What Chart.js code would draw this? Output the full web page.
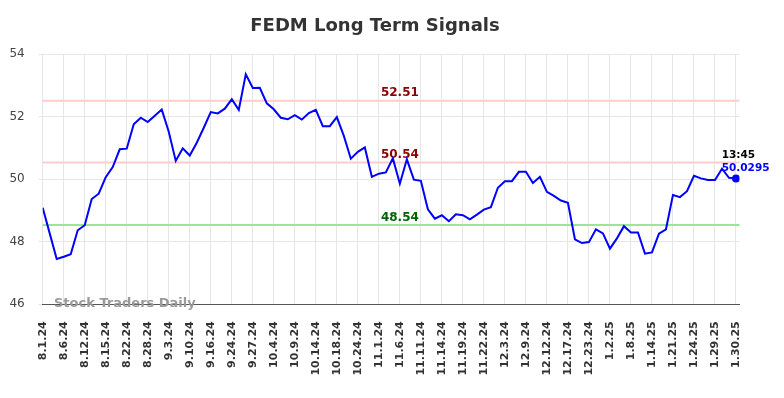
<!DOCTYPE html>
<html><head><meta charset="utf-8">
<script src="https://cdn.jsdelivr.net/npm/chart.js@4"></script>
<style>html,body{margin:0;padding:0;background:#fff}#wrap{width:784px;height:398px}</style>
</head><body><div id="wrap"><canvas id="c" width="784" height="398"></canvas></div>
<script>
const chartTitle = 'FEDM Long Term Signals';
const tickLabels = ['8.1.24','8.6.24','8.12.24','8.15.24','8.22.24','8.28.24','9.3.24','9.10.24','9.16.24','9.24.24','9.27.24','10.4.24','10.9.24','10.14.24','10.18.24','10.24.24','11.1.24','11.6.24','11.11.24','11.14.24','11.19.24','11.22.24','12.3.24','12.9.24','12.12.24','12.17.24','12.23.24','1.2.25','1.8.25','1.14.25','1.21.25','1.24.25','1.29.25','1.30.25'];
const pointsPerTick = 3;
const prices = [49.09,48.27,47.45,47.52,47.60,48.37,48.53,49.37,49.54,50.07,
50.39,50.96,50.98,51.76,51.97,51.83,52.03,52.23,51.52,50.59,
50.99,50.76,51.17,51.65,52.15,52.11,52.26,52.56,52.22,53.36,
52.92,52.93,52.43,52.24,51.97,51.92,52.05,51.91,52.12,52.22,
51.70,51.70,51.99,51.39,50.66,50.88,51.02,50.08,50.18,50.22,
50.67,49.86,50.64,49.99,49.95,49.04,48.74,48.85,48.66,48.88,
48.85,48.72,48.87,49.03,49.11,49.73,49.94,49.94,50.24,50.24,
49.88,50.08,49.60,49.47,49.32,49.25,48.08,47.96,47.99,48.40,
48.27,47.78,48.11,48.50,48.30,48.30,47.62,47.66,48.26,48.40,
49.50,49.43,49.62,50.11,50.03,49.98,49.98,50.34,50.05,50.0295];
const signalLevels = [52.51, 50.54, 48.54];
const signalLineColors = ['#ffcccc', '#ffcccc', '#99e699'];
const signalTextColors = ['#8b0000', '#8b0000', '#006400'];
const lastTime = '13:45';
const lastPriceText = '50.0295';
const watermark = 'Stock Traders Daily';

const FONT = 'DejaVu Sans';
Chart.defaults.font.family = FONT;

const overlay = {
  id: 'overlay',
  beforeDatasetsDraw(chart) {
    const {ctx, chartArea: a, scales: {x, y}} = chart;
    ctx.save();
    signalLevels.forEach((lv, i) => {
      const py = y.getPixelForValue(lv);
      ctx.strokeStyle = signalLineColors[i];
      ctx.lineWidth = 2;
      ctx.beginPath(); ctx.moveTo(a.left, py); ctx.lineTo(a.right, py); ctx.stroke();
      ctx.fillStyle = signalTextColors[i];
      ctx.font = 'bold 12px ' + FONT;
      ctx.textAlign = 'center'; ctx.textBaseline = 'middle';
      ctx.fillText(lv.toFixed(2), x.getPixelForValue(51), py - 7.5);
    });
    ctx.restore();
  },
  afterDraw(chart) {
    const {ctx, chartArea: a, scales: {x, y}} = chart;
    ctx.save();
    ctx.fillStyle = '#333';
    ctx.font = 'bold 18px ' + FONT;
    ctx.textAlign = 'center'; ctx.textBaseline = 'middle';
    ctx.fillText(chartTitle, 375, 26);
    ctx.fillStyle = '#9a9a9a';
    ctx.font = 'bold 13px ' + FONT;
    ctx.textAlign = 'left';
    ctx.fillText(watermark, 54, a.bottom - 1);
    const li = prices.length - 1;
    const px = x.getPixelForValue(li), py = y.getPixelForValue(prices[li]);
    ctx.font = 'bold 10.5px ' + FONT;
    ctx.fillStyle = '#000';
    ctx.fillText(lastTime, px - 14.3, py - 23);
    ctx.fillStyle = '#0000ff';
    ctx.fillText(lastPriceText, px - 14.3, py - 10);
    ctx.restore();
  }
};

new Chart(document.getElementById('c'), {
  type: 'line',
  data: {
    datasets: [{
      data: prices.map((v, i) => ({x: i, y: v})),
      borderColor: '#0000ff',
      backgroundColor: '#0000ff',
      borderWidth: 2,
      tension: 0,
      pointRadius: ctx => ctx.dataIndex === prices.length - 1 ? 4 : 0,
      pointBackgroundColor: '#0000ff',
      pointBorderWidth: 0
    }]
  },
  options: {
    responsive: false,
    animation: false,
    devicePixelRatio: 1,
    layout: {padding: {top: 54.3, right: 44.5, left: 0, bottom: 0}},
    plugins: {legend: {display: false}, tooltip: {enabled: false}, title: {display: false}},
    scales: {
      x: {
        type: 'linear',
        min: 0,
        max: (tickLabels.length - 1) * pointsPerTick + 0.5,
        afterBuildTicks: s => { s.ticks = tickLabels.map((_, i) => ({value: i * pointsPerTick})); },
        afterFit: s => { s.height = 93.7; },
        grid: {color: '#e6e6e6', drawTicks: false},
        border: {color: '#555', width: 1},
        ticks: {
          autoSkip: false, maxRotation: 90, minRotation: 90, padding: 17,
          color: '#333', font: {size: 11, weight: 'bold'},
          callback: v => tickLabels[Math.round(v / pointsPerTick)]
        }
      },
      y: {
        min: 46, max: 54,
        afterFit: s => { s.width = 42.7; },
        grid: {color: '#e6e6e6', tickLength: 4},
        border: {display: false},
        ticks: {stepSize: 2, padding: 14, color: '#444', font: {size: 12}}
      }
    }
  },
  plugins: [overlay]
});
</script>
</body></html>
